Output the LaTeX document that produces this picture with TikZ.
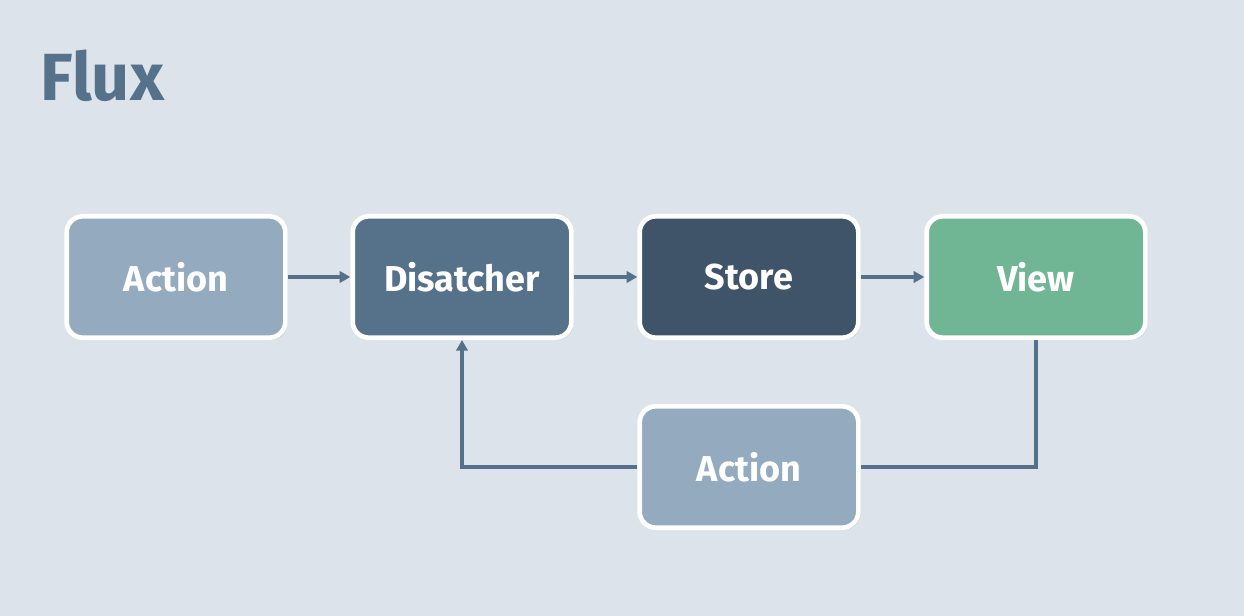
\documentclass[tikz,border=0pt]{standalone}
\usepackage{fontspec}
\setmainfont{Fira Sans}
\usetikzlibrary{arrows.meta,shadows}
\definecolor{bg}{HTML}{DCE3EA}
\definecolor{actfill}{HTML}{94AABE}
\definecolor{dispfill}{HTML}{56728A}
\definecolor{storefill}{HTML}{3F5469}
\definecolor{viewfill}{HTML}{70B594}
\definecolor{linec}{HTML}{56708A}
\tikzset{
  box/.style={draw=white, line width=3.5pt, rounded corners=12pt,
    minimum width=164pt, minimum height=91pt, text=white,
    font=\fontsize{27}{31}\selectfont\bfseries,
    drop shadow={shadow xshift=1.5pt, shadow yshift=-1.5pt, opacity=0.25, fill=black!60}},
  conn/.style={draw=linec, line width=3pt},
  arr/.style={conn, -{Triangle[length=8pt,width=8.5pt]}}
}
\begin{document}
\begin{tikzpicture}[x=0.75pt,y=-0.75pt]
\fill[bg] (0,0) rectangle (1244,616);
\useasboundingbox (0,0) rectangle (1244,616);
\node[anchor=base west, text=dispfill, font=\fontsize{50}{58}\selectfont\bfseries, inner sep=0pt] (title) at (40,101) {Flux};
\node[box, fill=actfill] (a1) at (176,277) {Action};
\node[box, fill=dispfill] (d) at (462,277) {Disatcher};
\node[box, fill=storefill] (s) at (749,277) {Store};
\node[box, fill=viewfill] (v) at (1036,277) {View};
\node[box, fill=actfill] (a2) at (749,467) {Action};
\draw[arr] (a1.east) -- (d.west);
\draw[arr] (d.east) -- (s.west);
\draw[arr] (s.east) -- (v.west);
\draw[arr] (a2.west) -| (d.south);
\draw[conn] (v.south) |- (a2.east);
\end{tikzpicture}
\end{document}
